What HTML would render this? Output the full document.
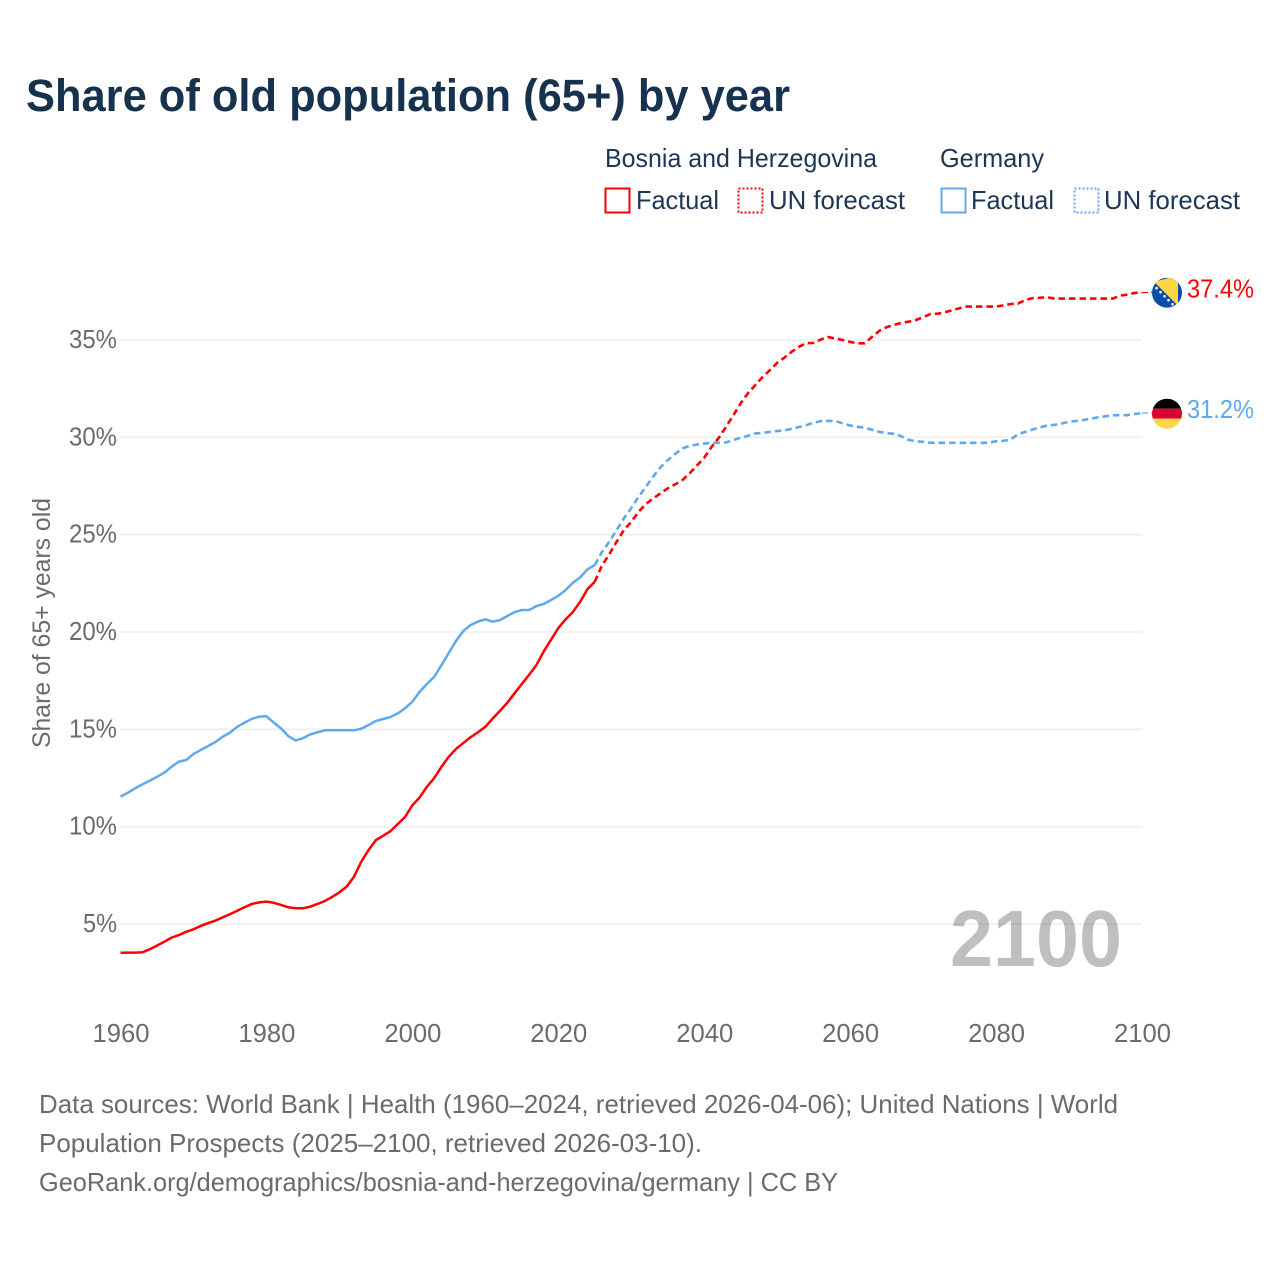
<!DOCTYPE html>
<html lang="en">
<head>
<meta charset="utf-8">
<title>Share of old population (65+) by year</title>
<style>
html,body{margin:0;padding:0;background:#fff;}
svg{display:block;font-family:"Liberation Sans",sans-serif;}
</style>
</head>
<body>
<svg id="chart" width="1280" height="1280" viewBox="0 0 1280 1280" xmlns="http://www.w3.org/2000/svg">
  <rect x="0" y="0" width="1280" height="1280" fill="#ffffff"/>
  <text x="26" y="111" font-size="45" font-weight="700" fill="#17324f" textLength="764" lengthAdjust="spacingAndGlyphs">Share of old population (65+) by year</text>

  <g font-size="26" fill="#1d3557">
    <text x="605" y="167" textLength="272" lengthAdjust="spacingAndGlyphs">Bosnia and Herzegovina</text>
    <text x="940" y="167" textLength="104" lengthAdjust="spacingAndGlyphs">Germany</text>
    <rect x="605.5" y="188.5" width="24" height="24" fill="none" stroke="#ff0000" stroke-width="2"/>
    <text x="636" y="209" textLength="83" lengthAdjust="spacingAndGlyphs">Factual</text>
    <rect x="738.5" y="188.5" width="24" height="24" fill="none" stroke="#ff0000" stroke-width="2" stroke-dasharray="2 2"/>
    <text x="769" y="209" textLength="136" lengthAdjust="spacingAndGlyphs">UN forecast</text>
    <rect x="941.5" y="188.5" width="24" height="24" fill="none" stroke="#5fa8ee" stroke-width="2"/>
    <text x="971" y="209" textLength="83" lengthAdjust="spacingAndGlyphs">Factual</text>
    <rect x="1074.5" y="188.5" width="24" height="24" fill="none" stroke="#5fa8ee" stroke-width="2" stroke-dasharray="2 2"/>
    <text x="1104" y="209" textLength="136" lengthAdjust="spacingAndGlyphs">UN forecast</text>
  </g>

  <g id="grid"></g>
  <g id="y-ticks"></g>
  <g id="x-ticks"></g>

  <text transform="translate(50,748) rotate(-90)" font-size="25" fill="#6b6b6b" textLength="250" lengthAdjust="spacingAndGlyphs">Share of 65+ years old</text>

  <text x="950" y="966" font-size="80" font-weight="700" fill="#000000" fill-opacity="0.25" textLength="172" lengthAdjust="spacingAndGlyphs">2100</text>

  <g id="series"></g>

  <g id="flag-bosnia"></g>
  <g id="flag-germany"></g>
  <g id="end-labels"></g>

  <g font-size="26" fill="#6b6b6b">
    <text x="39" y="1113" textLength="1079" lengthAdjust="spacingAndGlyphs">Data sources: World Bank | Health (1960–2024, retrieved 2026-04-06); United Nations | World</text>
    <text x="39" y="1152" textLength="663" lengthAdjust="spacingAndGlyphs">Population Prospects (2025–2100, retrieved 2026-03-10).</text>
    <text x="39" y="1191" textLength="799" lengthAdjust="spacingAndGlyphs">GeoRank.org/demographics/bosnia-and-herzegovina/germany | CC BY</text>
  </g>
</svg>

<script>
var xTickYears = [1960, 1980, 2000, 2020, 2040, 2060, 2080, 2100];
var yTickValues = [5, 10, 15, 20, 25, 30, 35];
var factualStartYear = 1960;
var forecastStartYear = 2025;

// Bosnia and Herzegovina, 1960-2025
var bosniaFactual = [
  3.52,3.53,3.53,3.55,3.70,3.89,4.09,4.30,4.43,4.60,
  4.73,4.90,5.05,5.17,5.34,5.50,5.68,5.86,6.03,6.11,
  6.15,6.09,5.98,5.86,5.81,5.81,5.89,6.03,6.18,6.39,
  6.63,6.92,7.43,8.20,8.80,9.31,9.53,9.77,10.13,10.50,
  11.10,11.50,12.05,12.50,13.08,13.60,14.00,14.30,14.60,14.85,
  15.13,15.55,15.95,16.36,16.85,17.33,17.80,18.30,19.00,19.60,
  20.20,20.65,21.03,21.55,22.20,22.58
];
// Bosnia and Herzegovina, 2025-2100
var bosniaForecast = [
  22.58,23.43,24.00,24.64,25.24,
  25.66,26.17,26.57,26.86,27.12,27.38,27.58,27.80,28.15,28.55,
  28.95,29.50,29.98,30.54,31.14,31.75,32.27,32.68,33.10,33.45,
  33.83,34.10,34.40,34.65,34.84,34.85,35.03,35.15,35.07,35.00,
  34.90,34.83,34.83,35.16,35.47,35.66,35.77,35.88,35.94,36.02,
  36.17,36.33,36.35,36.43,36.53,36.63,36.72,36.72,36.72,36.72,
  36.72,36.78,36.85,36.87,37.05,37.15,37.17,37.20,37.13,37.13,
  37.13,37.13,37.13,37.13,37.13,37.13,37.13,37.28,37.33,37.42,
  37.43
];
// Germany, 1960-2025
var germanyFactual = [
  11.54,11.74,11.97,12.17,12.36,12.56,12.77,13.08,13.34,13.42,
  13.73,13.94,14.14,14.35,14.62,14.83,15.13,15.34,15.54,15.65,
  15.67,15.35,15.05,14.65,14.43,14.54,14.74,14.85,14.95,14.95,
  14.95,14.95,14.95,15.03,15.22,15.43,15.53,15.63,15.82,16.08,
  16.42,16.93,17.33,17.70,18.30,18.93,19.55,20.06,20.36,20.54,
  20.65,20.53,20.61,20.82,21.02,21.13,21.13,21.33,21.44,21.64,
  21.86,22.15,22.53,22.80,23.22,23.44
];
// Germany, 2025-2100
var germanyForecast = [
  23.44,24.12,24.64,25.24,25.84,
  26.36,26.95,27.46,27.98,28.46,28.83,29.14,29.43,29.56,29.63,
  29.68,29.72,29.72,29.74,29.86,29.98,30.08,30.20,30.23,30.28,
  30.32,30.36,30.44,30.53,30.63,30.75,30.84,30.84,30.84,30.71,
  30.61,30.54,30.49,30.39,30.28,30.22,30.18,30.06,29.87,29.80,
  29.77,29.72,29.72,29.72,29.72,29.72,29.72,29.72,29.72,29.72,
  29.80,29.82,29.89,30.16,30.28,30.40,30.51,30.61,30.64,30.71,
  30.80,30.84,30.89,30.96,31.03,31.08,31.13,31.14,31.14,31.20,
  31.24
];

var SVG_NS = 'http://www.w3.org/2000/svg';
var RED = '#ff0000';
var BLUE = '#5fa8ee';
var TICK_COLOR = '#6b6b6b';

function xScale(year) {
  return 120.5 + (year - 1960) * (1142 - 120.5) / 140;
}
function yScale(value) {
  return 924 - (value - 5) * (924 - 340) / 30;
}
function make(tag, attrs, parent) {
  var el = document.createElementNS(SVG_NS, tag);
  for (var k in attrs) { el.setAttribute(k, attrs[k]); }
  parent.appendChild(el);
  return el;
}
function linePath(values, startYear) {
  var d = '';
  for (var i = 0; i < values.length; i++) {
    d += (i ? 'L' : 'M') + xScale(startYear + i).toFixed(2) + ' ' + yScale(values[i]).toFixed(2);
  }
  return d;
}

var gridGroup = document.getElementById('grid');
var yTickGroup = document.getElementById('y-ticks');
yTickValues.forEach(function (v) {
  var line = make('line', {x1: 120, x2: 1142, y1: yScale(v), y2: yScale(v), stroke: '#eeeeee', 'stroke-width': 1.6}, gridGroup);
  
  
  var label = make('text', {x: 117, y: yScale(v) + 8, 'text-anchor': 'end', 'font-size': 26, fill: TICK_COLOR, textLength: v < 10 ? 34 : 48, lengthAdjust: 'spacingAndGlyphs'}, yTickGroup);
  label.textContent = v + '%';
  
  
});

var xTickGroup = document.getElementById('x-ticks');
xTickYears.forEach(function (y) {
  var label = make('text', {x: xScale(y) + 0.5, y: 1042, 'text-anchor': 'middle', 'font-size': 26, fill: TICK_COLOR, textLength: 57, lengthAdjust: 'spacingAndGlyphs'}, xTickGroup);
  label.textContent = y;
  
  
});

var seriesGroup = document.getElementById('series');
function drawSeries(name, color, factual, forecast) {
  var solid = make('path', {d: linePath(factual, factualStartYear), fill: 'none', stroke: color, 'stroke-width': 2.5, 'stroke-linejoin': 'round'}, seriesGroup);
  
  
  var dashed = make('path', {d: linePath(forecast, forecastStartYear), fill: 'none', stroke: color, 'stroke-width': 2.6, 'stroke-dasharray': '6.5 4', 'stroke-linejoin': 'round'}, seriesGroup);
  
  
  var lastVal = forecast[forecast.length - 1];
  var connector = make('line', {x1: xScale(2100), x2: 1154, y1: yScale(lastVal), y2: yScale(lastVal) - 0.5, stroke: color, 'stroke-width': 1.2, 'stroke-dasharray': '6 3'}, seriesGroup);
  
  
}
drawSeries('bosnia', RED, bosniaFactual, bosniaForecast);
drawSeries('germany', BLUE, germanyFactual, germanyForecast);

var labelGroup = document.getElementById('end-labels');
function drawEndLabel(name, color, forecast) {
  var lastVal = forecast[forecast.length - 1];
  var label = make('text', {x: 1187, y: yScale(lastVal) + 5, 'font-size': 26, fill: color, textLength: 67, lengthAdjust: 'spacingAndGlyphs'}, labelGroup);
  label.textContent = lastVal.toFixed(1) + '%';
  
  
}
drawEndLabel('bosnia', RED, bosniaForecast);
drawEndLabel('germany', BLUE, germanyForecast);

// Flags follow the end of their series
var bosniaY = yScale(bosniaForecast[bosniaForecast.length - 1]);
var germanyY = yScale(germanyForecast[germanyForecast.length - 1]) + 0.5;
var FX = 1167;
var FR = 15;

var bFlag = document.getElementById('flag-bosnia');
bFlag.setAttribute('transform', 'translate(' + FX + ',' + bosniaY.toFixed(2) + ')');
var cp1 = make('clipPath', {id: 'clip-bosnia'}, bFlag);
make('circle', {cx: 0, cy: 0, r: FR}, cp1);
var bG = make('g', {'clip-path': 'url(#clip-bosnia)'}, bFlag);
make('rect', {x: -FR, y: -FR, width: 2 * FR, height: 2 * FR, fill: '#0a4ea8'}, bG);
make('polygon', {points: '-13,-11 11,-17 11,13', fill: '#ffd641'}, bG);
[[-10.5,-4.5],[-6.5,-0.5],[-2.5,3.5],[1.5,7.5],[5.5,11.5]].forEach(function (p) {
  make('circle', {cx: p[0], cy: p[1], r: 1.3, fill: '#ffffff'}, bG);
});

var gFlag = document.getElementById('flag-germany');
gFlag.setAttribute('transform', 'translate(' + FX + ',' + germanyY.toFixed(2) + ')');
var cp2 = make('clipPath', {id: 'clip-germany'}, gFlag);
make('circle', {cx: 0, cy: 0, r: FR}, cp2);
var gG = make('g', {'clip-path': 'url(#clip-germany)'}, gFlag);
make('rect', {x: -FR, y: -FR, width: 2 * FR, height: 10, fill: '#000000'}, gG);
make('rect', {x: -FR, y: -5, width: 2 * FR, height: 10, fill: '#dd0033'}, gG);
make('rect', {x: -FR, y: 5, width: 2 * FR, height: 10, fill: '#ffd641'}, gG);
</script>
</body>
</html>
